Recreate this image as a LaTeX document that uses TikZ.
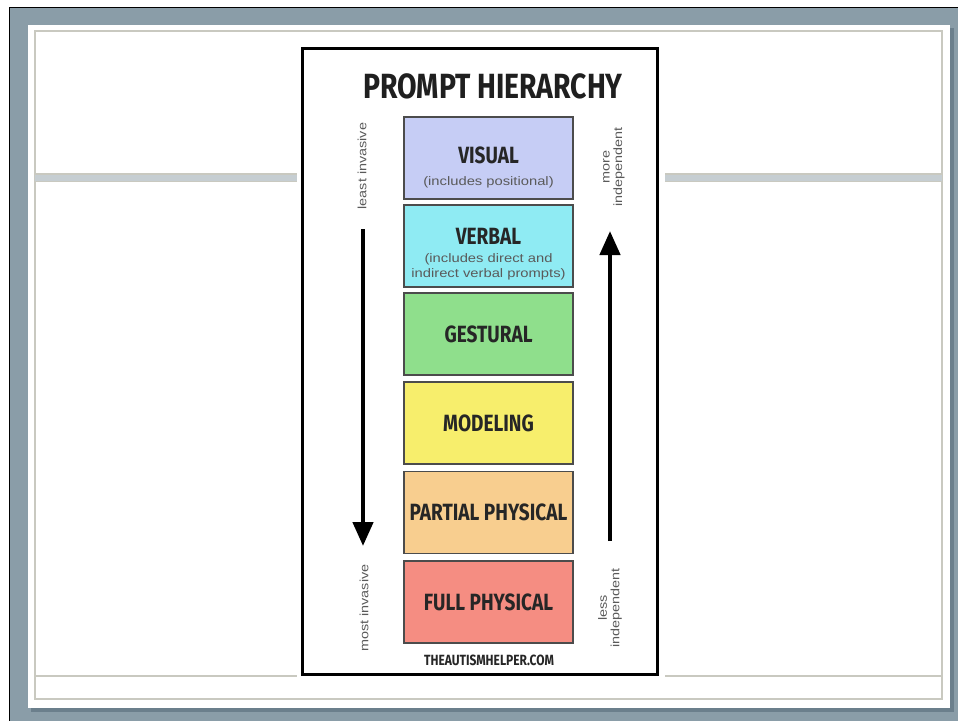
\documentclass[tikz,border=0pt]{standalone}
\usepackage{fontspec}
\setmainfont{Liberation Sans}
\newfontfamily\headfont[FakeStretch=0.81]{Fira Sans}
\newfontfamily\notefont[FakeStretch=1.2]{Liberation Sans}
\usetikzlibrary{arrows.meta}

\definecolor{frameblue}{HTML}{8A9DA8}
\definecolor{frameshadow}{HTML}{6B7F8C}
\definecolor{ruleline}{HTML}{C9C9C0}
\definecolor{rulefill}{HTML}{C6CED2}
\definecolor{cVisual}{HTML}{C6CDF5}
\definecolor{cVerbal}{HTML}{8FEBF3}
\definecolor{cGestural}{HTML}{8FDF8C}
\definecolor{cModeling}{HTML}{F7EE6C}
\definecolor{cPartial}{HTML}{F8CE8F}
\definecolor{cFull}{HTML}{F58D82}
\definecolor{subgrey}{HTML}{5A5A5A}

\tikzset{
  level/.style={draw=black!70, line width=1.5pt, minimum width=169pt,
    minimum height=82pt, inner sep=0pt},
  levellabel/.style={font=\headfont\bfseries\fontsize{23.5}{25}\selectfont,
    text=black!85, inner sep=0pt},
  levelnote/.style={font=\notefont\fontsize{12.3}{15.5}\selectfont, text=subgrey,
    align=center, inner sep=0pt},
  sidenote/.style={font=\notefont\fontsize{12}{12.5}\selectfont, text=subgrey,
    align=center, inner sep=0pt, rotate=90},
  bigarrow/.style={line width=4.5pt, -{Triangle[width=20pt,length=24pt]}},
}

\begin{document}
\begin{tikzpicture}[x=1pt, y=-1pt]
\useasboundingbox (0,0) rectangle (958,721);
\fill[white] (0,0) rectangle (958,721);

% slide frame
\fill[black] (9,7) rectangle (958,721);
\fill[frameblue] (10,8) rectangle (958,721);
\fill[frameshadow] (31,28) rectangle (954,712);
\fill[white] (28,25) rectangle (950,708);
\draw[ruleline, line width=2pt] (35,31) rectangle (942,699);

% title divider band and footer rule
\fill[rulefill] (35,174) rectangle (942,182);
\draw[ruleline, line width=1.6pt] (35,174) -- (942,174) (35,181.5) -- (942,181.5);
\draw[ruleline, line width=1.6pt] (35,676) -- (942,676);

% poster
\fill[white] (297,42) rectangle (665,681);
\draw[black, line width=3pt] (302,48) rectangle (657,674);

\node[font=\headfont\bfseries\fontsize{35}{37}\selectfont, text=black!88, inner sep=0pt]
  (title) at (493,86) {PROMPT HIERARCHY};

% levels
\node[level, fill=cVisual]   (visual)   at (488.5,158) {};
\node[level, fill=cVerbal]   (verbal)   at (488.5,246) {};
\node[level, fill=cGestural] (gestural) at (488.5,334) {};
\node[level, fill=cModeling] (modeling) at (488.5,423) {};
\node[level, fill=cPartial]  (partial)  at (488.5,512.5) {};
\node[level, fill=cFull]     (full)     at (488.5,602) {};

\node[levellabel] (visualtxt) at ([yshift=3pt]visual.center) {VISUAL};
\node[levelnote]  (visualnote) at ([yshift=-24pt]visual.center) {(includes positional)};
\node[levellabel] (verbaltxt) at ([yshift=10pt]verbal.center) {VERBAL};
\node[levelnote]  (verbalnote) at ([yshift=-21pt]verbal.center) {(includes direct and\\indirect verbal prompts)};
\node[levellabel] (gesturaltxt) at (gestural.center) {GESTURAL};
\node[levellabel] (modelingtxt) at (modeling.center) {MODELING};
\node[levellabel] (partialtxt) at (partial.center) {PARTIAL PHYSICAL};
\node[levellabel] (fulltxt) at (full.center) {FULL PHYSICAL};

% side notes
\node[sidenote] (least) at (362,166) {least invasive};
\node[sidenote] (most) at (364,608) {most invasive};
\node[sidenote] (moreind) at (614,167) {more\\independent};
\node[sidenote] (lessind) at (610,608) {less\\independent};

% direction arrows
\coordinate (downstart) at (363,229);
\coordinate (downend) at (363,546);
\coordinate (upstart) at (610,541);
\coordinate (upend) at (610,231);
\draw[bigarrow] (downstart) -- (downend);
\draw[bigarrow] (upstart) -- (upend);

\node[font=\headfont\bfseries\fontsize{14.8}{16}\selectfont, text=black!85, inner sep=0pt]
  (site) at (489,660) {THEAUTISMHELPER.COM};
\end{tikzpicture}
\end{document}
